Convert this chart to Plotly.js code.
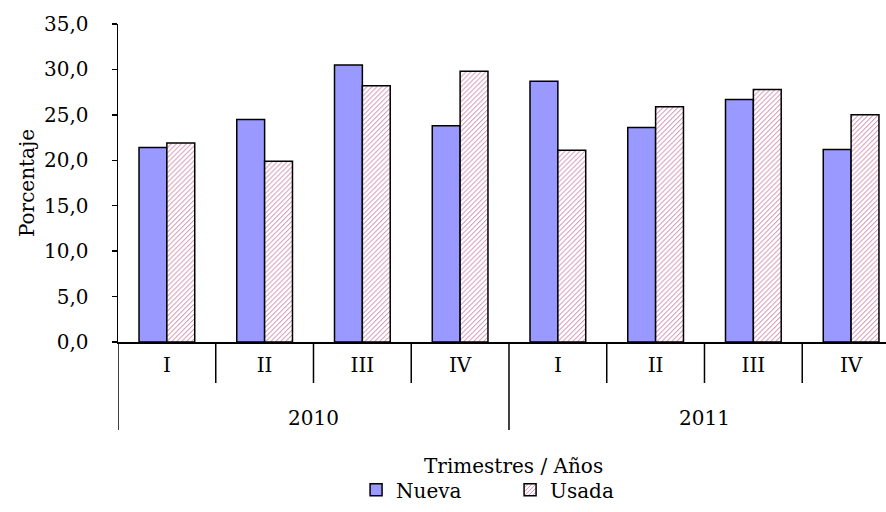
<!DOCTYPE html>
<html>
<head>
<meta charset="utf-8">
<script src="https://cdn.plot.ly/plotly-3.0.1.min.js"></script>
<style>html,body{margin:0;padding:0;background:#fff}#chart{width:886px;height:512px}</style>
</head>
<body>
<div id="chart"></div>
<script>
const trimestres = ["I","II","III","IV","I","II","III","IV"];
const years = ["2010","2011"];
const nueva = [21.4, 24.5, 30.5, 23.8, 28.7, 23.6, 26.7, 21.2];
const usada = [21.9, 19.9, 28.2, 29.8, 21.1, 25.9, 27.8, 25.0];

const idx = trimestres.map((_, i) => i);
const FONT = "'DejaVu Serif', serif";
const FS = 20;

const traces = [
  {type:"bar", name:"Nueva", x:idx, y:nueva,
   marker:{color:"#9999FF", line:{color:"#000", width:1.5}}},
  {type:"bar", name:"Usada", x:idx, y:usada,
   marker:{color:"#ffffff", line:{color:"#000", width:1.5},
           pattern:{shape:"/", fgcolor:"#c0608f", bgcolor:"#ffffff", size:3.5, solidity:0.25}}}
];

const shapes = [];
for (let i = 0; i <= trimestres.length; i++) {
  const isYear = (i % 4 === 0);
  shapes.push({type:"line", xref:"x", yref:"paper", x0:i-0.5, x1:i-0.5,
    y0:0, y1:isYear ? -0.277 : -0.129, line:{color:"#000", width:1.5}});
}
const annotations = years.map((yr, k) => ({
  xref:"x", yref:"paper", x:k*4+1.5, y:-0.239, text:yr, showarrow:false,
  font:{family:FONT, size:FS, color:"#000"}, yanchor:"middle"
}));
annotations.push({xref:"paper", yref:"paper", x:0.515, y:-0.39, text:"Trimestres / Años",
  showarrow:false, font:{family:FONT, size:FS, color:"#000"}, yanchor:"middle"});

const layout = {
  width:886, height:512,
  margin:{l:118, r:0, t:24, b:170},
  paper_bgcolor:"#fff", plot_bgcolor:"#fff",
  font:{family:FONT, size:FS, color:"#000"},
  separators:",.",
  bargap:0.43, bargroupgap:0,
  barmode:"group",
  showlegend:true,
  legend:{orientation:"h", x:0.31, y:-0.465, xanchor:"left", yanchor:"middle",
          font:{family:FONT, size:FS}, itemwidth:30, tracegroupgap:0, entrywidth:109},
  xaxis:{range:[-0.5, 7.357], tickvals:idx, ticktext:trimestres, ticks:"", showgrid:false,
         zeroline:false, showline:true, linecolor:"#000", linewidth:1.5, ticklabelstandoff:4,
         fixedrange:true, tickfont:{family:FONT, size:FS}},
  yaxis:{range:[0,35], dtick:5, tickformat:".1f", ticks:"outside", ticklen:5, tickwidth:1.5,
         tickcolor:"#000", showgrid:false, zeroline:false, showline:true, linecolor:"#000",
         linewidth:1.5, tickfont:{family:FONT, size:FS}, ticklabelstandoff:19,
         title:{text:"Porcentaje", standoff:4, font:{family:FONT, size:FS}}},
  shapes:shapes, annotations:annotations
};
Plotly.newPlot("chart", traces, layout, {displayModeBar:false, staticPlot:true});
</script>
</body>
</html>
